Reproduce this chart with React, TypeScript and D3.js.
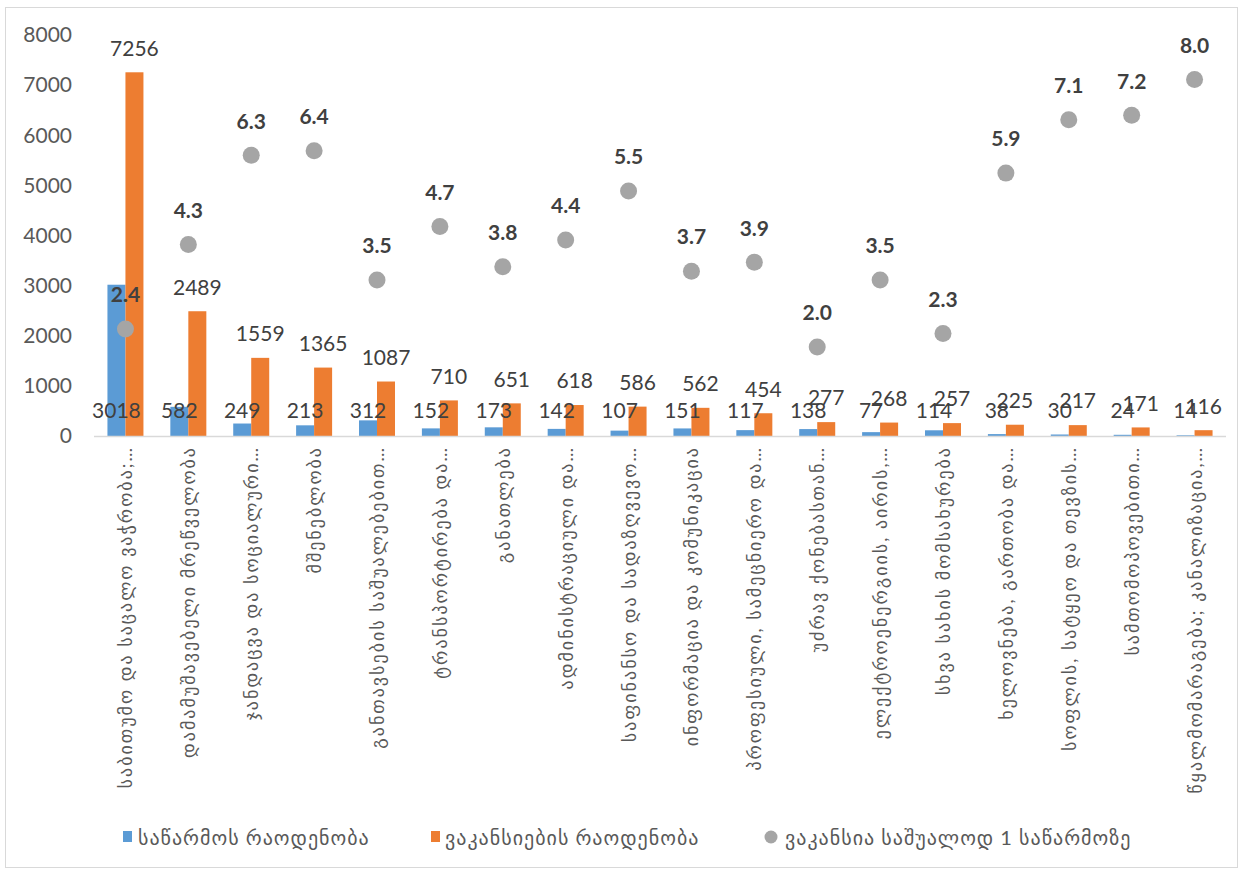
import React from "react";
import * as d3 from "d3";

const categories = [
  "საბითუმო და საცალო ვაჭრობა;…",
  "დამამუშავებელი მრეწველობა",
  "ჯანდაცვა და სოციალური…",
  "მშენებლობა",
  "განთავსების საშუალებებით…",
  "ტრანსპორტირება და…",
  "განათლება",
  "ადმინისტრაციული და…",
  "საფინანსო და სადაზღვევო…",
  "ინფორმაცია და კომუნიკაცია",
  "პროფესიული, სამეცნიერო და…",
  "უძრავ ქონებასთან…",
  "ელექტროენერგიის, აირის,…",
  "სხვა სახის მომსახურება",
  "ხელოვნება, გართობა და…",
  "სოფლის, სატყეო და თევზის…",
  "სამთომოპოვებითი…",
  "წყალმომარაგება; კანალიზაცია,…",
];

const enterprises = [3018, 582, 249, 213, 312, 152, 173, 142, 107, 151, 117, 138, 77, 114, 38, 30, 24, 14];
const vacancies = [7256, 2489, 1559, 1365, 1087, 710, 651, 618, 586, 562, 454, 277, 268, 257, 225, 217, 171, 116];
const avgPerEnterprise = [2.4, 4.3, 6.3, 6.4, 3.5, 4.7, 3.8, 4.4, 5.5, 3.7, 3.9, 2.0, 3.5, 2.3, 5.9, 7.1, 7.2, 8.0];

const yTicks = [0, 1000, 2000, 3000, 4000, 5000, 6000, 7000, 8000];
const legendLabels = ["საწარმოს რაოდენობა", "ვაკანსიების რაოდენობა", "ვაკანსია საშუალოდ 1 საწარმოზე"];

const W = 1244;
const H = 873;
const BLUE = "#5B9BD5";
const ORANGE = "#ED7D31";
const GREY = "#A5A5A5";
const FONT = "Lato, 'DejaVu Sans', sans-serif";

export default function App() {
  const plotLeft = 94;
  const plotRight = 1226;
  const plotTop = 35;
  const plotBottom = 436;

  const x = d3.scaleBand<string>().domain(categories).range([plotLeft, plotRight]).paddingInner(0).paddingOuter(0);
  const y = d3.scaleLinear().domain([0, 8000]).range([plotBottom, plotTop]);
  const y2 = d3.scaleLinear().domain([0, 9]).range([plotBottom, plotTop]);
  const barW = 18;

  return (
    <svg width={W} height={H} style={{ position: "absolute", left: 0, top: 0, background: "#fff" }} fontFamily={FONT}>
      <rect x={5.5} y={7.5} width={1232} height={860} fill="#fff" stroke="#D9D9D9" strokeWidth={1} />

      {yTicks.map((t) => (
        <text key={t} x={72} y={y(t)} dy="0.35em" textAnchor="end" fontSize={21} fill="#595959">
          {t}
        </text>
      ))}

      {categories.map((c, i) => {
        const cx = (x(c) as number) + x.bandwidth() / 2;
        return (
          <g key={c}>
            <rect x={cx - barW} y={y(enterprises[i])} width={barW} height={plotBottom - y(enterprises[i])} fill={BLUE} />
            <rect x={cx} y={y(vacancies[i])} width={barW} height={plotBottom - y(vacancies[i])} fill={ORANGE} />
          </g>
        );
      })}

      <line x1={plotLeft} x2={plotRight} y1={plotBottom + 0.5} y2={plotBottom + 0.5} stroke="#D9D9D9" strokeWidth={1.5} />

      {categories.map((c, i) => {
        const cx = (x(c) as number) + x.bandwidth() / 2;
        return (
          <g key={"l" + c}>
            <text x={cx - barW / 2} y={411} dy="0.35em" textAnchor="middle" fontSize={21} fill="#404040">
              {enterprises[i]}
            </text>
            <text x={cx + barW / 2} y={y(vacancies[i]) - 24} dy="0.35em" textAnchor="middle" fontSize={21} fill="#404040">
              {vacancies[i]}
            </text>
            <circle cx={cx} cy={y2(avgPerEnterprise[i])} r={8.5} fill={GREY} />
            <text x={cx} y={y2(avgPerEnterprise[i]) - 34} dy="0.35em" textAnchor="middle" fontSize={21} fontWeight="bold" fill="#404040">
              {avgPerEnterprise[i].toFixed(1)}
            </text>
            <text
              transform={`translate(${cx + 7},${446}) rotate(-90)`}
              textAnchor="end"
              fontSize={18}
              letterSpacing={2}
              fill="#595959"
            >
              {c}
            </text>
          </g>
        );
      })}

      <g fontSize={20} letterSpacing={1} fill="#595959">
        <rect x={123} y={831} width={9} height={11} fill={BLUE} />
        <text x={138} y={838} dy="0.35em">{legendLabels[0]}</text>
        <rect x={431} y={831} width={9} height={11} fill={ORANGE} />
        <text x={445} y={838} dy="0.35em">{legendLabels[1]}</text>
        <circle cx={771} cy={837} r={6.5} fill={GREY} />
        <text x={785} y={838} dy="0.35em">{legendLabels[2]}</text>
      </g>
    </svg>
  );
}
